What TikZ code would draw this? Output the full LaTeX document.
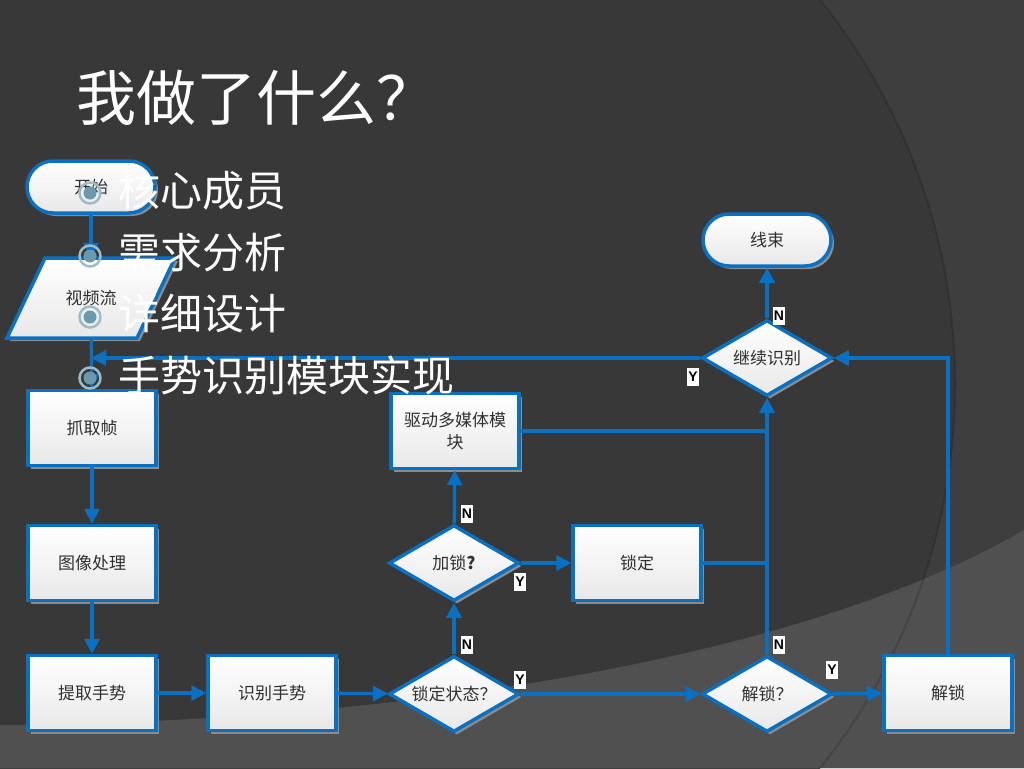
\documentclass[tikz,border=0pt]{standalone}
\usepackage{fontspec}
\newfontfamily\cjk{Noto Sans CJK SC}
\newfontfamily\lab{Liberation Sans}
\usetikzlibrary{shapes.geometric,arrows.meta,shadows}
\definecolor{bgdark}{HTML}{383838}
\definecolor{bgright}{HTML}{3E3E3E}
\definecolor{bgbottom}{HTML}{505050}
\definecolor{flowblue}{HTML}{0A70C2}
\definecolor{txt}{HTML}{303030}
\definecolor{ringc}{HTML}{9DBCC8}
\definecolor{dotc}{HTML}{6A9AAE}
\tikzset{
  shapefill/.style={draw=flowblue, line width=3.5pt, top color=white, bottom color=black!9,
    drop shadow={shadow xshift=3pt, shadow yshift=-3pt, fill=black!45, opacity=1}},
  boxbase/.style={shapefill, text=txt, font=\cjk\fontsize{17}{22}\selectfont, inner sep=0pt, align=center},
  procbox/.style={boxbase, rectangle, minimum width=128pt, minimum height=75pt},
  termbox/.style={boxbase, rectangle, rounded corners=26pt, minimum width=128pt, minimum height=52pt},
  decbox/.style={boxbase, diamond, aspect=1.7, minimum width=130pt, minimum height=76pt},
  flow/.style={draw=flowblue, line width=3.3pt},
  flowarrow/.style={flow, -{Triangle[length=15pt,width=15pt]}},
  yn/.style={fill=white, text=black, font=\lab\bfseries\fontsize{14}{14}\selectfont, inner sep=1pt, minimum width=11pt, minimum height=18pt},
  bullettext/.style={text=white, font=\cjk\fontsize{42}{42}\selectfont, anchor=west, inner sep=0pt},
  bulletring/.style={circle, draw=ringc, line width=2.5pt, minimum size=21pt, inner sep=0pt,
    path picture={\fill[dotc] (path picture bounding box.center) circle (6.5pt);}},
}
\begin{document}
\begin{tikzpicture}[x=1pt,y=-1pt]
\useasboundingbox (0,0) rectangle (1024,768);
% background
\fill[bgdark] (0,0) rectangle (1024,768);
\begin{scope}
  \clip (0,0) rectangle (1024,768);
  \fill[bgright, even odd rule] (0,0) rectangle (1024,768) (341,384) circle (614);
  \fill[bgbottom] (0,725) .. controls (400,722) and (800,660) .. (1024,530) -- (1024,768) -- (0,768) -- cycle;
  \draw[black, line width=2pt, opacity=0.15] (341,384) circle (614);
\end{scope}

% title
\node[text=white, font=\cjk\fontsize{60}{60}\selectfont, anchor=west, inner sep=0pt] (title) at (76,98) {我做了什么？};

% flowchart nodes
\node[termbox] (start) at (91,187) {开始};
\path[shapefill] (7,338) -- (45,258) -- (175,258) -- (137,338) -- cycle;
\node[text=txt, font=\cjk\fontsize{17}{22}\selectfont, inner sep=0pt, minimum width=130pt, minimum height=80pt] (vid) at (91,298) {视频流};
\node[procbox] (grab) at (92,428) {抓取帧};
\node[procbox] (img) at (92,563) {图像处理};
\node[procbox] (ext) at (92,693) {提取手势};
\node[procbox] (rec) at (272,693) {识别手势};
\node[decbox] (lockq) at (454,694) {锁定状态？};
\node[decbox] (addq) at (454,563) {加锁\textbf{?}};
\node[procbox] (drv) at (455,431) {驱动多媒体模\\块};
\node[procbox] (lock) at (637,563) {锁定};
\node[decbox] (unq) at (767,694) {解锁？};
\node[procbox] (unl) at (948,693) {解锁};
\node[decbox] (cont) at (767,358) {继续识别};
\node[termbox] (endn) at (767,240) {线束};
\coordinate (back) at (91,358);

% connectors
\draw[flowarrow] (start) -- (vid);
\draw[flowarrow] (vid) -- (grab);
\draw[flowarrow] (grab) -- (img);
\draw[flowarrow] (img) -- (ext);
\draw[flowarrow] (ext) -- (rec);
\draw[flowarrow] (rec) -- (lockq);
\draw[flowarrow] (lockq) -- (addq);
\draw[flowarrow] (addq) -- (drv);
\draw[flowarrow] (addq) -- (lock);
\draw[flowarrow] (lockq) -- (unq);
\draw[flowarrow] (unq) -- (unl);
\draw[flowarrow] (unq) -- (cont);
\draw[flow] (drv.east) -- (drv.east -| cont.south);
\draw[flow] (lock.east) -- (lock.east -| cont.south);
\draw[flowarrow] (unl.north) |- (cont.east);
\draw[flowarrow] (cont) -- (endn);
\draw[flowarrow] (cont.west) -- (back);

% Y/N labels
\node[yn] (l1) at (467,645) {N};
\node[yn] (l2) at (520,680) {Y};
\node[yn] (l3) at (467,514) {N};
\node[yn] (l4) at (520,582) {Y};
\node[yn] (l5) at (779,645) {N};
\node[yn] (l6) at (832,670) {Y};
\node[yn] (l7) at (779,316) {N};
\node[yn] (l8) at (693,377) {Y};

% bullets
\node[bulletring] (r1) at (90,193) {};
\node[bulletring] (r2) at (90,256) {};
\node[bulletring] (r3) at (90,317) {};
\node[bulletring] (r4) at (90,378) {};
\node[bullettext] (t1) at (118,191) {核心成员};
\node[bullettext] (t2) at (118,253) {需求分析};
\node[bullettext] (t3) at (118,314) {详细设计};
\node[bullettext] (t4) at (118,375) {手势识别模块实现};
\end{tikzpicture}
\end{document}
